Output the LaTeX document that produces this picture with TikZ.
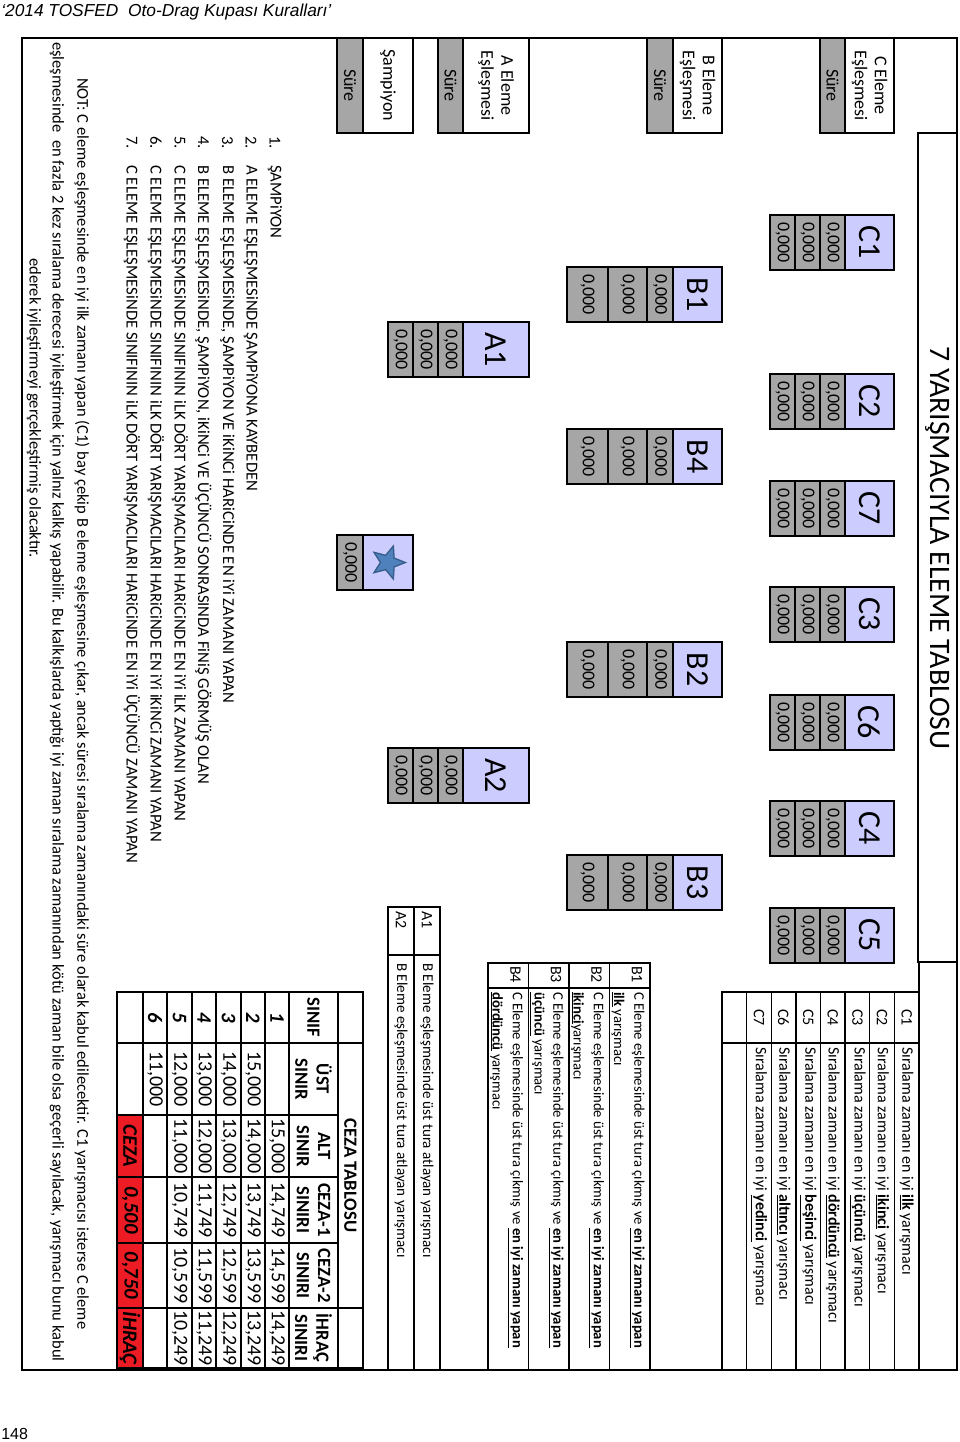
\documentclass[tikz,border=0pt]{standalone}
\usepackage{fontspec}
\setmainfont{Carlito}
\newfontfamily\arialfont{Liberation Sans}
\usetikzlibrary{shapes.geometric}

\definecolor{lavblue}{RGB}{204,204,255}
\definecolor{cellgray}{RGB}{166,166,166}
\definecolor{penred}{RGB}{237,28,36}
\definecolor{starblue}{RGB}{79,129,189}
\definecolor{starline}{RGB}{56,93,138}

\begin{document}
\begin{tikzpicture}[x=0.75pt,y=0.75pt,yscale=-1,xscale=1,
	every node/.style={inner sep=0pt},
	blk/.style={draw=black,line width=2pt,rotate=-90,minimum width=41.25pt},
	namebox/.style={blk,fill=lavblue,minimum height=36.75pt,font=\fontsize{24}{26}\selectfont},
	timebox/.style={blk,fill=cellgray,minimum height=18.75pt,font=\fontsize{13.5}{15}\selectfont},
	headbox/.style={blk,fill=white,minimum width=71.25pt,minimum height=36.75pt,align=center,font=\fontsize{13.5}{15}\selectfont},
	surebox/.style={blk,fill=cellgray,minimum width=71.25pt,minimum height=18.75pt,font=\fontsize{13.5}{15}\selectfont},
	thinrule/.style={line width=1pt},
	leglab/.style={rotate=-90,font=\fontsize{12}{14}\selectfont},
	legtxt/.style={rotate=-90,anchor=west,font=\fontsize{11}{13}\selectfont},
	tabhead/.style={rotate=-90,align=center,font=\bfseries\fontsize{14}{16}\selectfont},
	tabnum/.style={rotate=-90,font=\fontsize{15}{17}\selectfont},
	tabrow/.style={rotate=-90,font=\bfseries\itshape\fontsize{15.5}{17}\selectfont},
	listtxt/.style={rotate=-90,anchor=west,font=\fontsize{12.5}{14}\selectfont},
	notetxt/.style={rotate=-90,anchor=west,font=\fontsize{12.4}{14}\selectfont}]
			\useasboundingbox (0,0) rectangle (960,1442);
			
			% page header and number
			\node[anchor=west,font=\arialfont\itshape\fontsize{13}{15}\selectfont] (hdr) at (1,12) {‘2014 TOSFED\ \ Oto-Drag Kupası Kuralları’};
			\node[anchor=west,font=\arialfont\fontsize{12}{14}\selectfont] (pg) at (1,1434) {148};
			
			% frame and title
			\draw[line width=1.5pt] (22,38) rectangle (957,1370);
			\draw[line width=1.5pt] (918,133) rectangle (957,962);
			\draw[line width=1.5pt] (919,962) -- (919,1370);
			\node[rotate=-90,font=\fontsize{22.3}{24}\selectfont] (title) at (937.5,548) {7 YARIŞMACIYLA ELEME TABLOSU};
			
			% row heads
			\node[headbox] (chead) at (869.5,85.5) {C Eleme\\Eşleşmesi};
			\node[surebox] (csure) at (832.5,85.5) {Süre};
			\node[headbox] (bhead) at (697.5,85.5) {B Eleme\\Eşleşmesi};
			\node[surebox,minimum height=19.5pt] (bsure) at (660,85.5) {Süre};
			\node[headbox,minimum height=49.5pt] (ahead) at (496,85.5) {A Eleme\\Eşleşmesi};
			\node[surebox] (asure) at (450.5,85.5) {Süre};
			\node[headbox,minimum height=37.5pt] (shead) at (388,85.5) {Şampiyon};
			\node[surebox,minimum height=19.5pt] (ssure) at (350,85.5) {Süre};
			
			% C blocks
			\foreach \cn/\y in {C1/242.5,C2/401.5,C7/508.5,C3/614.5,C6/722.5,C4/828.5,C5/935.5}{
				\node[namebox] (\cn) at (869.5,\y) {\cn};
				\node[timebox] (\cn-1) at (832.5,\y) {0,000};
				\node[timebox] (\cn-2) at (807.5,\y) {0,000};
				\node[timebox] (\cn-3) at (782.5,\y) {0,000};
			}
			% B blocks
			\foreach \bn/\y in {B1/294.5,B4/456.5,B2/669.5,B3/882.5}{
				\node[namebox] (\bn) at (697.5,\y) {\bn};
				\node[timebox,minimum height=19.5pt] (\bn-1) at (660,\y) {0,000};
				\node[timebox,minimum height=29.25pt] (\bn-2) at (627.5,\y) {0,000};
				\node[timebox,minimum height=30.75pt] (\bn-3) at (587.5,\y) {0,000};
			}
			% A blocks
			\foreach \an/\y in {A1/349.5,A2/775.5}{
				\node[namebox,minimum height=49.5pt] (\an) at (496,\y) {\an};
				\node[timebox] (\an-1) at (450.5,\y) {0,000};
				\node[timebox] (\an-2) at (425.5,\y) {0,000};
				\node[timebox] (\an-3) at (400.5,\y) {0,000};
			}
			% champion
			\node[namebox,minimum height=37.5pt] (champ) at (388,562.5) {};
			\node[star,star points=5,star point ratio=2.3,minimum size=26pt,fill=starblue,draw=starline,line width=1pt,rotate=-90] (champstar) at (388,562.5) {};
			\node[timebox,minimum height=19.5pt] (champ-1) at (350,562.5) {0,000};
			
			% C legend
			\draw[thinrule] (722,992) rectangle (919,1370);
			\foreach \k in {1,...,7} \draw[thinrule] ({919-24.625*\k},992) -- ({919-24.625*\k},1370);
			\draw[thinrule] (722,1043) -- (919,1043);
			\foreach \cn/\w [count=\k] in {C1/ilk,C2/ikinci,C3/üçüncü,C4/dördüncü,C5/beşinci,C6/altıncı,C7/yedinci}{
				\node[leglab] (l\cn) at ({919-24.625*(\k-0.5)},1017.5) {\cn};
				\node[legtxt,font=\fontsize{12}{14}\selectfont] (t\cn) at ({919-24.625*(\k-0.5)},1047) {Sıralama zamanı en iyi \underline{\textbf{\w}} yarışmacı};
			}
			
			% B legend
			\draw[thinrule] (488,963) rectangle (650,1370);
			\foreach \x in {609.5,569,528.5} \draw[thinrule] (\x,963) -- (\x,1370);
			\draw[thinrule] (488,988) -- (650,988);
			\foreach \bn/\w/\x in {B1/{\underline{\textbf{ilk}} yarışmacı}/650,B2/{\underline{\textbf{ikinci}}yarışmacı}/609.5,B3/{\underline{\textbf{üçüncü}} yarışmacı}/569,B4/{\underline{\textbf{dördüncü}} yarışmacı}/528.5}{
				\node[legtxt,font=\fontsize{12}{14}\selectfont] (k\bn) at (\x-13,966) {\bn};
				\node[legtxt] (k\bn-a) at (\x-13,992) {C Eleme eşlemesinde üst tura çıkmış ve \underline{\textbf{en iyi zamanı yapan}}};
				\node[legtxt] (k\bn-b) at (\x-32,992) {\w};
			}
			
			% A legend
			\draw[thinrule] (388,907) rectangle (440,1370);
			\draw[thinrule] (414,907) -- (414,1370);
			\draw[thinrule] (388,955) -- (440,955);
			\node[legtxt,font=\fontsize{12}{14}\selectfont] (kA1) at (427,911) {A1};
			\node[legtxt,font=\fontsize{11.3}{13}\selectfont] (kA1-a) at (427,963) {B Eleme eşleşmesinde üst tura atlayan yarışmacı};
			\node[legtxt,font=\fontsize{12}{14}\selectfont] (kA2) at (401,911) {A2};
			\node[legtxt,font=\fontsize{11.3}{13}\selectfont] (kA2-a) at (401,963) {B Eleme eşleşmesinde üst tura atlayan yarışmacı};
			
			% penalty table
			\fill[penred] (117,1115) rectangle (143,1368);
			\foreach \x in {143,167,192,216,241,265} \draw[thinrule] (\x,992) -- (\x,1368);
			\foreach \y in {1043,1308} \draw[thinrule] (117,\y) -- (363,\y);
			\foreach \y in {1115,1177,1243} \draw[thinrule] (117,\y) -- (338,\y);
			\draw[line width=2pt] (117,992) rectangle (363,1368);
			\draw[line width=2pt] (289,992) -- (289,1368);
			\draw[line width=2pt] (338,992) -- (338,1368);
			\node[tabhead] (ttitle) at (350.5,1175.5) {CEZA TABLOSU};
			\node[tabhead] (hsinif) at (313.5,1017.5) {SINIF};
			\node[tabhead] (hust) at (313.5,1079) {ÜST\\SINIR};
			\node[tabhead] (halt) at (313.5,1146) {ALT\\SINIR};
			\node[tabhead] (hc1) at (313.5,1210) {CEZA-1\\SINIRI};
			\node[tabhead] (hc2) at (313.5,1275.5) {CEZA-2\\SINIRI};
			\node[tabhead] (hihr) at (313.5,1338) {İHRAÇ\\SINIRI};
			\foreach \r/\x/\u/\a/\p/\q/\e in {1/277/{}/{15,000}/{14,749}/{14,599}/{14,249},2/253/{15,000}/{14,000}/{13,749}/{13,599}/{13,249},3/228.5/{14,000}/{13,000}/{12,749}/{12,599}/{12,249},4/204/{13,000}/{12,000}/{11,749}/{11,599}/{11,249},5/179.5/{12,000}/{11,000}/{10,749}/{10,599}/{10,249}}{
				\node[tabrow] (r\r) at (\x,1017.5) {\r};
				\node[tabnum] (r\r-u) at (\x,1079) {\u};
				\node[tabnum] (r\r-a) at (\x,1146) {\a};
				\node[tabnum] (r\r-p) at (\x,1210) {\p};
				\node[tabnum] (r\r-q) at (\x,1275.5) {\q};
				\node[tabnum] (r\r-e) at (\x,1338) {\e};
			}
			\node[tabrow] (r6) at (155,1017.5) {6};
			\node[tabnum] (r6-u) at (155,1079) {11,000};
			\node[tabrow] (pceza) at (130,1146) {CEZA};
			\node[tabrow] (p1) at (130,1210) {0,500};
			\node[tabrow] (p2) at (130,1275.5) {0,750};
			\node[tabrow] (pihr) at (130,1338) {İHRAÇ};
			
			% ranking list
			\node[listtxt] (n1) at (275,136) {1.};
			\node[listtxt] (i1) at (275,165) {ŞAMPiYON};
			\node[listtxt] (n2) at (251,136) {2.};
			\node[listtxt] (i2) at (251,165) {A ELEME EŞLEŞMESiNDE ŞAMPiYONA KAYBEDEN};
			\node[listtxt] (n3) at (227.5,136) {3.};
			\node[listtxt] (i3) at (227.5,165) {B ELEME EŞLEŞMESiNDE, ŞAMPiYON VE iKiNCi HARiCiNDE EN iYi ZAMANI YAPAN};
			\node[listtxt] (n4) at (203.5,136) {4.};
			\node[listtxt] (i4) at (203.5,165) {B ELEME EŞLEŞMESiNDE, ŞAMPiYON, iKiNCi VE ÜÇÜNCÜ SONRASINDA FiNiŞ GÖRMÜŞ OLAN};
			\node[listtxt] (n5) at (180,136) {5.};
			\node[listtxt] (i5) at (180,165) {C ELEME EŞLEŞMESiNDE SINIFININ iLK DÖRT YARIŞMACILARI HARiCiNDE EN iYi iLK ZAMANI YAPAN};
			\node[listtxt] (n6) at (156,136) {6.};
			\node[listtxt] (i6) at (156,165) {C ELEME EŞLEŞMESiNDE SINIFININ iLK DÖRT YARIŞMACILARI HARiCiNDE EN iYi iKiNCi ZAMANI YAPAN};
			\node[listtxt] (n7) at (132,136) {7.};
			\node[listtxt] (i7) at (132,165) {C ELEME EŞLEŞMESiNDE SINIFININ iLK DÖRT YARIŞMACILARI HARiCiNDE EN iYi ÜÇÜNCÜ ZAMANI YAPAN};
			
			% note
			\node[notetxt] (not1) at (82,78) {NOT: C eleme eşleşmesinde en iyi ilk zamanı yapan (C1) bay çekip B eleme eşleşmesine çıkar, ancak süresi sıralama zamanındaki süre olarak kabul edilecektir. C1 yarışmacısı isterse C eleme};
			\node[notetxt] (not2) at (57,42) {eşleşmesinde\ \ en fazla 2 kez sıralama derecesi iyileştirmek için yalnız kalkış yapabilir. Bu kalkışlarda yaptığı iyi zaman sıralama zamanından kötü zaman bile olsa geçerli sayılacak, yarışmacı bunu kabul};
			\node[notetxt] (not3) at (34,258) {ederek iyileştirmeyi gerçekleştirmiş olacaktır.};
\end{tikzpicture}
\end{document}
